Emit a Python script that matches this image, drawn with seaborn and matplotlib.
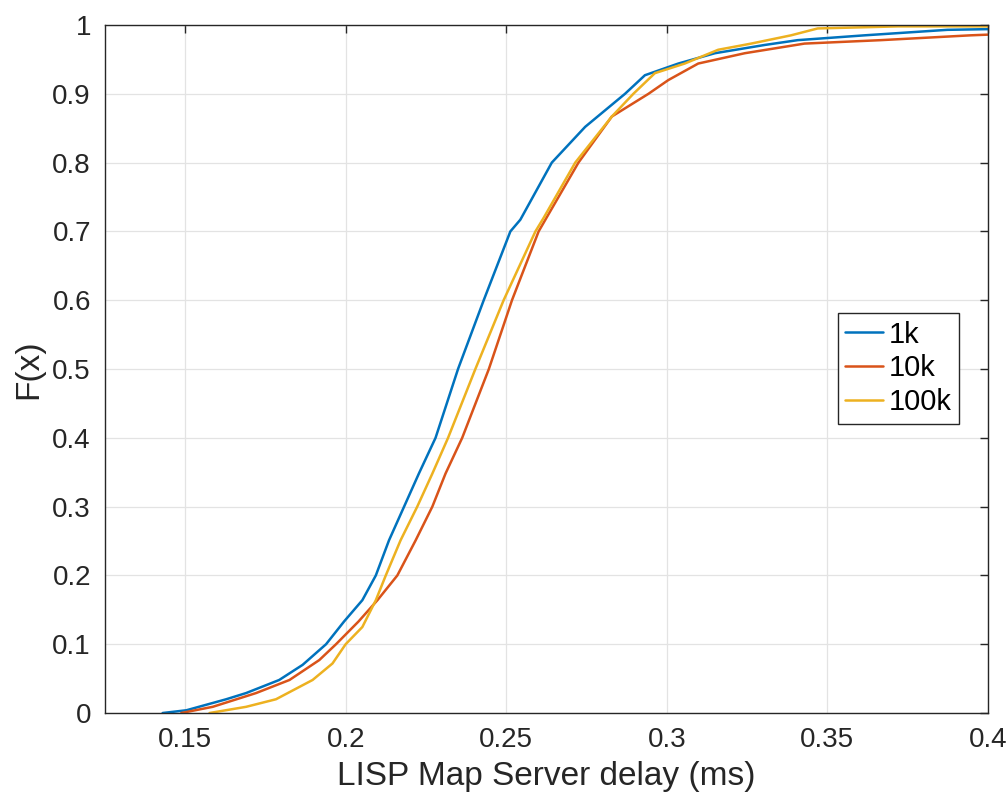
import matplotlib
matplotlib.use("Agg")
import matplotlib.pyplot as plt
import seaborn as sns
import pandas as pd

series_names = ["1k", "10k", "100k"]

x_1k = [0.1430, 0.1504, 0.1628, 0.1690, 0.1793, 0.1866, 0.1939, 0.1995, 0.2052,
        0.2094, 0.2135, 0.2182, 0.2228, 0.2280, 0.2350, 0.2430, 0.2513, 0.2544, 0.2642,
        0.2746, 0.2870, 0.2932, 0.3036, 0.3150, 0.3305, 0.3408, 0.3616, 0.3874, 0.4000]
f_1k = [0.000, 0.004, 0.020, 0.029, 0.048, 0.070, 0.100, 0.133, 0.164,
        0.200, 0.251, 0.300, 0.348, 0.400, 0.500, 0.600, 0.700, 0.717, 0.800,
        0.852, 0.900, 0.927, 0.944, 0.959, 0.971, 0.978, 0.985, 0.993, 0.994]

x_10k = [0.1488, 0.1586, 0.1721, 0.1825, 0.1918, 0.1970, 0.2040, 0.2099, 0.2161,
         0.2218, 0.2270, 0.2311, 0.2363, 0.2446, 0.2518, 0.2601, 0.2622, 0.2725, 0.2829,
         0.2943, 0.3005, 0.3098, 0.3243, 0.3429, 0.3667, 0.3946, 0.4000]
f_10k = [0.000, 0.009, 0.029, 0.048, 0.077, 0.100, 0.133, 0.164, 0.200,
         0.251, 0.300, 0.348, 0.400, 0.500, 0.600, 0.700, 0.717, 0.800, 0.867,
         0.900, 0.920, 0.944, 0.959, 0.973, 0.978, 0.985, 0.986]

x_100k = [0.1576, 0.1690, 0.1783, 0.1897, 0.1959, 0.2000, 0.2052, 0.2094, 0.2125,
          0.2171, 0.2223, 0.2270, 0.2319, 0.2404, 0.2492, 0.2591, 0.2617, 0.2715,
          0.2829, 0.2896, 0.2963, 0.3056, 0.3160, 0.3263, 0.3387, 0.3470, 0.3720, 0.4000]
f_100k = [0.000, 0.009, 0.020, 0.048, 0.072, 0.100, 0.125, 0.164, 0.200,
          0.251, 0.300, 0.348, 0.400, 0.500, 0.600, 0.700, 0.720, 0.800,
          0.867, 0.900, 0.930, 0.944, 0.964, 0.973, 0.985, 0.995, 0.998, 0.998]

x_ticks = [0.15, 0.2, 0.25, 0.3, 0.35, 0.4]
x_tick_labels = ["0.15", "0.2", "0.25", "0.3", "0.35", "0.4"]
y_ticks = [0, 0.1, 0.2, 0.3, 0.4, 0.5, 0.6, 0.7, 0.8, 0.9, 1.0]
y_tick_labels = ["0", "0.1", "0.2", "0.3", "0.4", "0.5", "0.6", "0.7", "0.8", "0.9", "1"]

colors = ["#0072BD", "#D95319", "#EDB120"]

rows = []
for name, xs, fs in zip(series_names, [x_1k, x_10k, x_100k], [f_1k, f_10k, f_100k]):
    for i, (xv, fv) in enumerate(zip(xs, fs)):
        rows.append({"series": name, "x": xv, "F": fv, "order": i})
df = pd.DataFrame(rows)

sns.set_theme(style="white")
plt.rcParams["font.family"] = ["Liberation Sans", "DejaVu Sans"]

fig = plt.figure(figsize=(10.08, 7.94), dpi=100)
ax = fig.add_axes([0.104, 0.102, 0.876, 0.8665])

sns.lineplot(data=df, x="x", y="F", hue="series", hue_order=series_names,
             palette=colors, sort=False, estimator=None, linewidth=1.8, ax=ax)

ax.set_xlim(0.125, 0.4)
ax.set_ylim(0, 1)
ax.set_xticks(x_ticks)
ax.set_xticklabels(x_tick_labels)
ax.set_yticks(y_ticks)
ax.set_yticklabels(y_tick_labels)
ax.grid(True, color="#e3e3e3", linewidth=0.9)
ax.set_axisbelow(True)

for s in ax.spines.values():
    s.set_visible(True)
    s.set_color("#262626")
    s.set_linewidth(1.0)
ax.tick_params(axis="both", direction="in", length=6, width=1.0, colors="#262626",
               labelsize=20, top=True, right=True, pad=10)
for lab in ax.get_xticklabels() + ax.get_yticklabels():
    lab.set_color("#262626")

ax.set_xlabel("LISP Map Server delay (ms)", fontsize=24, color="#262626", labelpad=6)
ax.set_ylabel("F(x)", fontsize=24, color="#262626", labelpad=6)

handles, labels = ax.get_legend_handles_labels()
leg = ax.legend(handles, labels, loc="upper left", bbox_to_anchor=(0.830, 0.581),
                borderaxespad=0, fontsize=21, frameon=True, fancybox=False,
                handlelength=1.3, handletextpad=0.2, borderpad=0.25,
                labelspacing=0.2, edgecolor="#262626", framealpha=1)
leg.get_frame().set_linewidth(1.0)
for t in leg.get_texts():
    t.set_color("black")

fig.savefig("out.png", dpi=100)
